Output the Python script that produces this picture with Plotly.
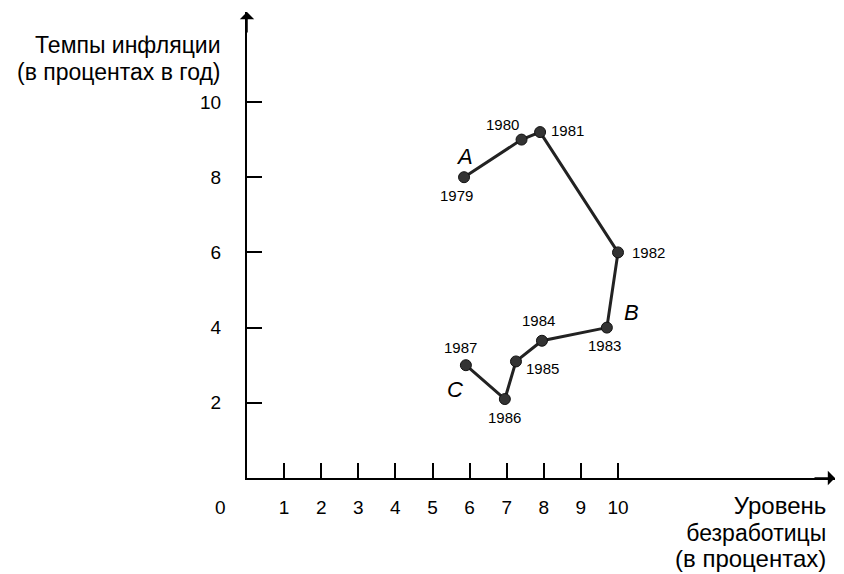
import plotly.graph_objects as go

# ---- data ----
years = ["1979", "1980", "1981", "1982", "1983", "1984", "1985", "1986", "1987"]
unemployment = [5.85, 7.4, 7.9, 10.0, 9.7, 7.95, 7.25, 6.95, 5.9]
inflation = [8.0, 9.0, 9.2, 6.0, 4.0, 3.65, 3.1, 2.1, 3.0]
x_ticks = [1, 2, 3, 4, 5, 6, 7, 8, 9, 10]
y_ticks = [2, 4, 6, 8, 10]
phase_letters = ["A", "B", "C"]
phase_years = ["1979", "1983", "1987"]
y_title_lines = ["Темпы инфляции", "(в процентах в год)"]
x_title_lines = ["Уровень", "безработицы", "(в процентах)"]

# ---- styles / layout ----
W, H = 844, 574
OFF = 8                                  # page body margin of the browser
L, R, T, B = 247, 835, 12, 478           # plot area in reference pixels
XSCALE, YSCALE = 37.1, 37.6              # pixels per unit
FONT = "Liberation Sans, Arial, sans-serif"
y_title_sizes = [23, 23]
x_title_sizes = [24, 23, 24]
TITLE_LINE_BASE = 20.5                   # base size -> ~26.5px line spacing

year_shift = {"1979": (-8, -18), "1980": (-19, 15), "1981": (27, 2),
              "1982": (30, 0), "1983": (-2, -18), "1984": (-3, 20),
              "1985": (27, -7), "1986": (0, -18), "1987": (-5, 18)}
letter_shift = {"A": (0, 21), "B": (25, 15), "C": (-11, -24)}


def px(xp):
    return (xp - L) / (R - L)


def py(yp):
    return (B - yp) / (B - T)


def multiline(lines, sizes):
    return "<br>".join("<span style='font-size:%dpx'>%s</span>" % (s, t) for t, s in zip(lines, sizes))


fig = go.Figure()
fig.add_trace(go.Scatter(
    x=unemployment, y=inflation, mode="lines+markers",
    line=dict(color="#222222", width=3),
    marker=dict(size=11, color="#333333", line=dict(color="#111111", width=1)),
    hoverinfo="skip", showlegend=False))

ann = []
for yr, xv, yv in zip(years, unemployment, inflation):
    dx, dy = year_shift[yr]
    ann.append(dict(x=xv, y=yv, xref="x", yref="y", text=yr, showarrow=False,
                    xanchor="center", yanchor="middle",
                    xshift=dx, yshift=dy, font=dict(family=FONT, size=15, color="black")))
for let, yr in zip(phase_letters, phase_years):
    i = years.index(yr)
    dx, dy = letter_shift[let]
    ann.append(dict(x=unemployment[i], y=inflation[i], xref="x", yref="y",
                    text="<i>%s</i>" % let, showarrow=False, xshift=dx, yshift=dy,
                    xanchor="center", yanchor="middle",
                    font=dict(family=FONT, size=22, color="black")))

# axis arrows
ann.append(dict(x=0, y=1, xref="paper", yref="paper", ax=0, ay=22,
                text="", showarrow=True, arrowhead=1, arrowsize=1.6, arrowwidth=1.5, arrowcolor="black"))
ann.append(dict(x=1, y=0, xref="paper", yref="paper", ax=-22, ay=0,
                text="", showarrow=True, arrowhead=1, arrowsize=1.6, arrowwidth=1.5, arrowcolor="black"))

# origin label
ann.append(dict(x=px(220), y=py(507), xref="paper", yref="paper", text="0", showarrow=False,
                xanchor="center", yanchor="middle",
                font=dict(family=FONT, size=19, color="black")))

# axis titles
ann.append(dict(x=px(223), y=py(58), xref="paper", yref="paper",
                text=multiline(y_title_lines, y_title_sizes), showarrow=False, align="right",
                xanchor="right", yanchor="middle",
                font=dict(family=FONT, size=TITLE_LINE_BASE, color="black")))
ann.append(dict(x=px(828), y=py(532), xref="paper", yref="paper",
                text=multiline(x_title_lines, x_title_sizes), showarrow=False, align="right",
                xanchor="right", yanchor="middle",
                font=dict(family=FONT, size=TITLE_LINE_BASE, color="black")))

fig.update_layout(
    width=W - OFF, height=H - OFF, autosize=False,
    margin=dict(l=L - OFF, r=W - R, t=T - OFF, b=H - B, pad=0),
    paper_bgcolor="white", plot_bgcolor="white",
    annotations=ann,
    xaxis=dict(range=[0, (R - L) / XSCALE], tickvals=x_ticks, ticktext=[str(v) for v in x_ticks],
               ticks="inside", ticklen=15, tickwidth=1.5, tickcolor="black",
               showline=True, linecolor="black", linewidth=2, showgrid=False, zeroline=False,
               ticklabelstandoff=11, tickfont=dict(family=FONT, size=19, color="black"),
               fixedrange=True),
    yaxis=dict(range=[0, (B - T) / YSCALE], tickvals=y_ticks, ticktext=[str(v) for v in y_ticks],
               ticks="inside", ticklen=15, tickwidth=1.5, tickcolor="black",
               showline=True, linecolor="black", linewidth=2, showgrid=False, zeroline=False,
               ticklabelstandoff=20, tickfont=dict(family=FONT, size=19, color="black"),
               fixedrange=True),
)

fig.write_html("out.html")
